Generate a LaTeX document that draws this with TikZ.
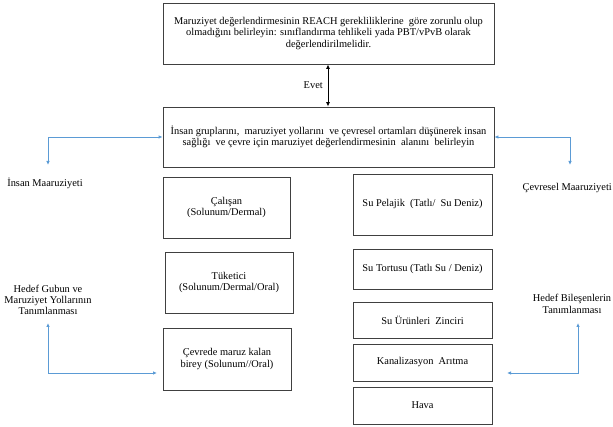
\documentclass[tikz,border=0pt]{standalone}
\usepackage{fontspec}
\setmainfont{Liberation Serif}
\usetikzlibrary{arrows.meta}
\definecolor{bluearr}{HTML}{5B9BD5}
\definecolor{boxline}{HTML}{404040}
\begin{document}
\begin{tikzpicture}[x=1pt,y=-1pt,
  every node/.style={font=\rmfamily\fontsize{10.4}{11.3}\selectfont, align=center, inner sep=0pt},
  box/.style={draw=boxline, line width=0.8pt, fill=white},
  barr/.style={draw=bluearr, line width=0.8pt, {Latex[length=4pt,width=3.5pt]}-{Latex[length=4pt,width=3.5pt]}},
  karr/.style={draw=black, line width=0.9pt, {Latex[length=4.5pt,width=4pt]}-{Latex[length=4.5pt,width=4pt]}}]
\useasboundingbox (0,0) rectangle (613,427);

\node[box, minimum width=331pt, minimum height=61pt] (top) at (328.5,33.5)
 {Maruziyet değerlendirmesinin REACH gerekliliklerine\ \ göre zorunlu olup\\
  olmadığını belirleyin: sınıflandırma tehlikeli yada PBT/vPvB olarak\\
  değerlendirilmelidir.};
\node[box, minimum width=331pt, minimum height=60pt] (scope) at (328.5,137)
 {İnsan gruplarını,\ \ maruziyet yollarını\ \ ve çevresel ortamları düşünerek insan\\
  sağlığı\ \ ve çevre için maruziyet değerlendirmesinin\ \ alanını\ \ belirleyin};

\draw[karr] (top.south -| 328,0) -- (scope.north -| 328,0);
\node[anchor=east] (evet) at (323,85) {Evet};

% left column
\node[box, minimum width=127pt, minimum height=61pt] (calisan) at (226.5,207.5)
 {Çalışan\\(Solunum/Dermal)};
\node[box, minimum width=128pt, minimum height=61pt] (tuketici) at (229,282.5)
 {Tüketici\\(Solunum/Dermal/Oral)};
\node[box, minimum width=128pt, minimum height=62pt] (cevrede) at (227,359)
 {Çevrede maruz kalan\\birey (Solunum//Oral)};

% right column
\node[box, minimum width=139pt, minimum height=61pt] (pelajik) at (422.5,204.5)
 {Su Pelajik\ \ (Tatlı/\ \ Su Deniz)};
\node[box, minimum width=139pt, minimum height=40pt] (tortu) at (422.5,269)
 {Su Tortusu (Tatlı Su / Deniz)};
\node[box, minimum width=139pt, minimum height=36pt] (zincir) at (422.5,320)
 {Su Ürünleri\ \ Zinciri};
\node[box, minimum width=139pt, minimum height=37pt] (kanal) at (422.5,362.5)
 {Kanalizasyon\ \ Arıtma};
\node[box, minimum width=139pt, minimum height=37pt] (hava) at (422.5,405.5)
 {Hava};

% side labels
\node (insan) at (45,183) {İnsan Maaruziyeti};
\node[anchor=east] (cevresel) at (612,188) {Çevresel Maaruziyeti};
\node (hedefg) at (48,300) {Hedef Gubun ve\\Maruziyet Yollarının\\Tanımlanması};
\node (hedefb) at (572,304) {Hedef Bileşenlerin\\Tanımlanması};

% blue connectors
\coordinate (c1) at (48,165);
\coordinate (c2) at (570,165);
\coordinate (c3) at (48,323);
\coordinate (c4) at (157,373);
\coordinate (c5) at (578,323);
\coordinate (c6) at (507,373);
\draw[barr] (scope.west) -| (c1);
\draw[barr] (scope.east) -| (c2);
\draw[barr] (c3) |- (c4);
\draw[barr] (c5) |- (c6);
\end{tikzpicture}
\end{document}
